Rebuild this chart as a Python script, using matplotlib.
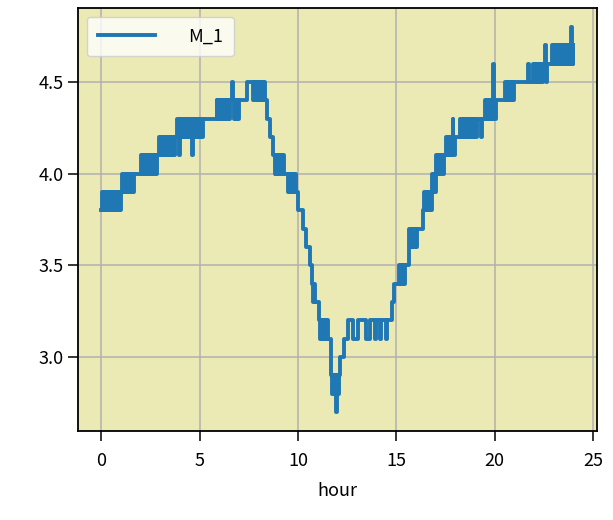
import matplotlib
matplotlib.use('Agg')
import matplotlib.pyplot as plt

plt.rcParams['font.family'] = ['Noto Sans CJK JP', 'DejaVu Sans']

# M_1 readings (hour, value) taken off the chart, drawn as steps
hour = [
    0.00, 0.05, 0.10, 0.15, 0.20, 0.25, 0.30, 0.35, 0.40, 0.45, 0.50, 0.55,
    0.65, 0.70, 0.75, 0.80, 0.85, 0.90, 0.95, 1.00,
    1.05, 1.10, 1.15, 1.20, 1.25, 1.30, 1.35, 1.40, 1.45, 1.50, 1.55, 1.60, 1.65,
    2.00, 2.05, 2.10, 2.15, 2.20, 2.25, 2.30, 2.35, 2.40, 2.45, 2.50, 2.55,
    2.60, 2.65, 2.70, 2.75, 2.80,
    2.95, 3.00, 3.05, 3.10, 3.15, 3.20, 3.25, 3.30, 3.35, 3.40, 3.45, 3.50,
    3.55, 3.60, 3.65, 3.70, 3.75,
    3.85, 3.90, 3.95, 3.98, 4.00, 4.05, 4.10, 4.15, 4.20, 4.25, 4.30, 4.35,
    4.40, 4.45, 4.50, 4.55, 4.60, 4.63, 4.65, 4.70, 4.75, 4.80, 4.85, 4.90,
    4.95, 5.00, 5.05, 5.10, 5.15,
    5.85, 5.90, 5.95, 6.00, 6.05, 6.10, 6.15, 6.20, 6.25, 6.30, 6.35, 6.40,
    6.45, 6.50, 6.55, 6.65, 6.68, 6.75, 6.80, 6.85, 6.90, 6.95, 7.00,
    7.40, 7.70, 7.75, 7.80, 7.85, 7.90, 7.95, 8.00, 8.05, 8.10, 8.15, 8.20,
    8.25, 8.30, 8.40, 8.55, 8.70,
    8.80, 8.85, 8.90, 8.95, 9.00, 9.05, 9.10, 9.15, 9.20, 9.25, 9.30,
    9.50, 9.55, 9.60, 9.65, 9.70, 9.75, 9.80, 9.85, 9.90,
    10.00, 10.25, 10.42, 10.58, 10.72, 10.78, 10.82, 10.88,
    11.05, 11.10, 11.15, 11.20, 11.25, 11.30, 11.35, 11.40, 11.45, 11.50,
    11.65, 11.70, 11.75, 11.80, 11.85, 11.90, 11.94, 11.97, 12.00, 12.05,
    12.10, 12.12, 12.35, 12.52, 12.80, 13.02, 13.45, 13.65, 13.90, 13.95,
    14.15, 14.20, 14.45, 14.50, 14.75, 14.90,
    15.15, 15.20, 15.25, 15.30, 15.35, 15.40, 15.45,
    15.62, 15.67, 15.72, 15.77, 15.82, 15.87, 15.92, 15.97, 16.02,
    16.35, 16.40, 16.45, 16.50, 16.55, 16.60, 16.65, 16.70, 16.75,
    16.80, 16.85, 16.90, 16.95,
    17.00, 17.05, 17.10, 17.15, 17.20, 17.25, 17.30, 17.35, 17.40,
    17.50, 17.55, 17.60, 17.65, 17.70, 17.75, 17.80, 17.85, 17.88, 17.92, 17.97,
    18.25, 18.30, 18.35, 18.40, 18.45, 18.50, 18.55, 18.60, 18.65, 18.70,
    18.75, 18.80, 18.85, 18.90, 18.95, 19.05, 19.10, 19.30, 19.35,
    19.50, 19.55, 19.60, 19.65, 19.70, 19.75, 19.80, 19.85, 19.90, 19.93,
    19.96, 20.00, 20.05,
    20.50, 20.55, 20.60, 20.65, 20.70, 20.75, 20.80, 20.85, 20.90, 20.95, 21.00,
    21.68, 21.72,
    21.95, 22.00, 22.05, 22.10, 22.15, 22.20, 22.25, 22.30, 22.35, 22.40,
    22.45, 22.55, 22.58, 22.62, 22.67,
    22.90, 22.95, 23.00, 23.05, 23.10, 23.15, 23.20, 23.25, 23.30, 23.35,
    23.40, 23.45, 23.50, 23.55, 23.60, 23.65, 23.70, 23.75, 23.80, 23.85,
    23.90, 23.93, 23.97, 24.00,
]
m_1 = [
    3.8, 3.9, 3.8, 3.9, 3.8, 3.9, 3.8, 3.9, 3.8, 3.9, 3.8, 3.9,
    3.8, 3.9, 3.8, 3.9, 3.8, 3.9, 3.8, 3.9,
    4.0, 3.9, 4.0, 3.9, 4.0, 3.9, 4.0, 3.9, 4.0, 3.9, 4.0, 3.9, 4.0,
    4.1, 4.0, 4.1, 4.0, 4.1, 4.0, 4.1, 4.0, 4.1, 4.0, 4.1, 4.0,
    4.1, 4.0, 4.1, 4.0, 4.1,
    4.2, 4.1, 4.2, 4.1, 4.2, 4.1, 4.2, 4.1, 4.2, 4.1, 4.2, 4.1,
    4.2, 4.1, 4.2, 4.1, 4.2,
    4.3, 4.2, 4.1, 4.2, 4.3, 4.2, 4.3, 4.2, 4.3, 4.2, 4.3, 4.2,
    4.3, 4.2, 4.3, 4.2, 4.1, 4.2, 4.3, 4.2, 4.3, 4.2, 4.3, 4.2,
    4.3, 4.2, 4.3, 4.2, 4.3,
    4.4, 4.3, 4.4, 4.3, 4.4, 4.3, 4.4, 4.3, 4.4, 4.3, 4.4, 4.3,
    4.4, 4.3, 4.4, 4.5, 4.4, 4.3, 4.4, 4.3, 4.4, 4.3, 4.4,
    4.5, 4.4, 4.5, 4.4, 4.5, 4.4, 4.5, 4.4, 4.5, 4.4, 4.5, 4.4,
    4.5, 4.4, 4.3, 4.2, 4.1,
    4.0, 4.1, 4.0, 4.1, 4.0, 4.1, 4.0, 4.1, 4.0, 4.1, 4.0,
    3.9, 4.0, 3.9, 4.0, 3.9, 4.0, 3.9, 4.0, 3.9,
    3.8, 3.7, 3.6, 3.5, 3.4, 3.3, 3.4, 3.3,
    3.2, 3.1, 3.2, 3.1, 3.2, 3.1, 3.2, 3.1, 3.2, 3.1,
    2.9, 2.8, 2.9, 2.8, 2.9, 2.8, 2.7, 2.8, 2.9, 2.8,
    2.9, 3.0, 3.1, 3.2, 3.1, 3.2, 3.1, 3.2, 3.1, 3.2,
    3.1, 3.2, 3.1, 3.2, 3.3, 3.4,
    3.5, 3.4, 3.5, 3.4, 3.5, 3.4, 3.5,
    3.7, 3.6, 3.7, 3.6, 3.7, 3.6, 3.7, 3.6, 3.7,
    3.8, 3.9, 3.8, 3.9, 3.8, 3.9, 3.8, 3.9, 3.8,
    4.0, 3.9, 4.0, 3.9,
    4.1, 4.0, 4.1, 4.0, 4.1, 4.0, 4.1, 4.0, 4.1,
    4.2, 4.1, 4.2, 4.1, 4.2, 4.1, 4.2, 4.3, 4.2, 4.1, 4.2,
    4.3, 4.2, 4.3, 4.2, 4.3, 4.2, 4.3, 4.2, 4.3, 4.2,
    4.3, 4.2, 4.3, 4.2, 4.3, 4.2, 4.3, 4.2, 4.3,
    4.4, 4.3, 4.4, 4.3, 4.4, 4.3, 4.4, 4.3, 4.4, 4.6,
    4.4, 4.3, 4.4,
    4.5, 4.4, 4.5, 4.4, 4.5, 4.4, 4.5, 4.4, 4.5, 4.4, 4.5,
    4.6, 4.5,
    4.6, 4.5, 4.6, 4.5, 4.6, 4.5, 4.6, 4.5, 4.6, 4.5,
    4.6, 4.7, 4.6, 4.5, 4.6,
    4.7, 4.6, 4.7, 4.6, 4.7, 4.6, 4.7, 4.6, 4.7, 4.6,
    4.7, 4.6, 4.7, 4.6, 4.7, 4.6, 4.7, 4.6, 4.7, 4.6,
    4.8, 4.7, 4.6, 4.7,
]

fig = plt.figure(figsize=(6.13, 5.2), dpi=100)
ax = fig.add_axes([0.127, 0.171, 0.847, 0.814])
ax.set_facecolor('#eceab4')

ax.plot(hour, m_1, drawstyle='steps-post', color='#1f77b4', lw=2.8, label='M_1')

ax.grid(True, color='#b0b0b0', lw=1.1)
ax.set_axisbelow(True)
ax.set_xlabel('hour', fontsize=13, labelpad=9)
ax.tick_params(labelsize=13, width=1.1, length=7)
ax.tick_params(axis='x', pad=8)
ax.tick_params(axis='y', pad=3)
for s in ax.spines.values():
    s.set_linewidth(1.3)

ax.legend(loc='upper left', fontsize=13, handlelength=3.2, handletextpad=1.8,
          borderpad=0.6, framealpha=0.8)

fig.savefig('out.png', dpi=100)
